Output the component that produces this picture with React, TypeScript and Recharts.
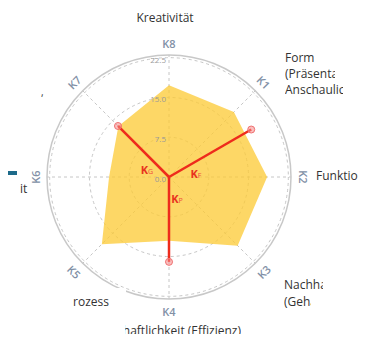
import { RadarChart, Radar, PolarGrid, PolarAngleAxis, PolarRadiusAxis } from "recharts";

// criteria around the wheel, clockwise from the top
const criteria = ["K8", "K1", "K2", "K3", "K4", "K5", "K6", "K7"];
const scores = [17.3, 17.3, 18.5, 18.3, 12.0, 17.9, 11.3, 13.5];
const radialTicks = [0, 7.5, 15, 22.5];

// resultant vectors K_G, K_F, K_P (bearing clockwise from K8, length on the radial scale)
const vectorNames = ["G", "F", "P"];
const vectorBearings = [315, 60, 180];
const vectorLengths = [13.6, 17.9, 16.0];

const STEP = 15; // angular resolution of the angle axis
const rows = Array.from({ length: 360 / STEP }, (_, i) => {
  const bearing = i * STEP;
  const k = bearing % 45 === 0 ? bearing / 45 : -1;
  const v = vectorBearings.indexOf(bearing);
  return {
    axis: k >= 0 ? criteria[k] : `_${bearing}`,
    score: k >= 0 ? scores[k] : null,
    vector: v >= 0 ? vectorLengths[v] : null,
    vectorName: v >= 0 ? vectorNames[v] : null,
  };
});

const CX = 169;
const CY = 177;
const R = 122;
const FONT = '"Open Sans", sans-serif';

const labelOffset: Record<string, [number, number]> = {
  G: [-22, -8],
  F: [27, -4],
  P: [8, 21],
};

function AngleTick({ payload }: any) {
  const name = String(payload.value);
  if (name.startsWith("_")) return <g />;
  const a = payload.coordinate;
  const rad = (a * Math.PI) / 180;
  const r = R + 12;
  const x = CX + r * Math.cos(rad);
  const y = CY - r * Math.sin(rad);
  let rot = (((90 - a) % 360) + 360) % 360;
  if (rot > 90 && rot < 270) rot -= 180;
  else if (rot >= 270) rot -= 360;
  return (
    <text
      x={x}
      y={y}
      transform={`rotate(${rot} ${x} ${y})`}
      textAnchor="middle"
      dominantBaseline="central"
      fontFamily={FONT}
      fontSize={11}
      fontWeight={600}
      fill="#8190a6"
    >
      {name}
    </text>
  );
}

function RadiusTick({ x, y, payload }: any) {
  return (
    <text
      x={x - 3}
      y={y + 1.5}
      textAnchor="end"
      dominantBaseline="central"
      fontFamily={FONT}
      fontSize={8}
      fill="#9a9a9a"
    >
      {Number(payload.value).toFixed(1)}
    </text>
  );
}

function ProfileShape({ points }: any) {
  const pts = points.filter((p: any) => p.value != null);
  const d = pts.map((p: any, i: number) => `${i ? "L" : "M"}${p.x},${p.y}`).join("") + "Z";
  return <path d={d} fill="#fccb36" fillOpacity={0.76} stroke="none" />;
}

function VectorShape({ points }: any) {
  return (
    <g>
      {points
        .filter((p: any) => p.value != null)
        .map((p: any) => {
          const key = p.payload.vectorName;
          const [dx, dy] = labelOffset[key];
          return (
            <g key={key}>
              <line x1={p.cx} y1={p.cy} x2={p.x} y2={p.y} stroke="#ee2b1c" strokeWidth={2.5} />
              <circle cx={p.x} cy={p.y} r={3.5} fill="#f58a8a" fillOpacity={0.55} stroke="#f07070" strokeWidth={1} />
              <text
                x={p.cx + dx}
                y={p.cy + dy}
                textAnchor="middle"
                dominantBaseline="central"
                fontFamily={FONT}
                fontWeight={700}
                fontSize={11}
                fill="#e8331f"
              >
                K
                <tspan fontSize={7} fontWeight={400} dy={2} fill="#f04a3a">
                  {key}
                </tspan>
              </text>
            </g>
          );
        })}
    </g>
  );
}

const textStyle: React.CSSProperties = {
  position: "absolute",
  fontFamily: FONT,
  fontSize: 12,
  lineHeight: "16px",
  color: "#333",
  whiteSpace: "nowrap",
  overflow: "hidden",
};

export default function App() {
  return (
    <div style={{ position: "relative", margin: -8, width: 366, height: 342, overflow: "hidden", background: "#fff" }}>
      <RadarChart width={366} height={342} cx={CX} cy={CY} outerRadius={R} data={rows} margin={{ top: 0, right: 0, bottom: 0, left: 0 }}>
        <PolarGrid
          gridType="circle"
          stroke="#c6c6c6"
          strokeDasharray="3 3"
          polarAngles={criteria.map((_, i) => 90 - i * 45)}
        />
        <PolarAngleAxis
          dataKey="axis"
          axisLineType="circle"
          axisLine={{ stroke: "#c8c8c8", strokeWidth: 1.5 }}
          tickLine={false}
          tick={<AngleTick />}
        />
        <PolarRadiusAxis
          angle={90}
          domain={[0, 22.5]}
          ticks={radialTicks as any}
          axisLine={false}
          tickLine={false}
          tick={<RadiusTick />}
        />
        <Radar dataKey="score" shape={<ProfileShape />} isAnimationActive={false} />
        <Radar dataKey="vector" shape={<VectorShape />} isAnimationActive={false} />
      </RadarChart>

      <div style={{ position: "absolute", left: 0, top: 171, width: 17, height: 4, background: "#1d6a8a" }} />
      <div style={{ ...textStyle, left: 110, top: 10, width: 110, textAlign: "center" }}>Kreativität</div>
      <div style={{ ...textStyle, left: 285, top: 50 }}>Form</div>
      <div style={{ ...textStyle, left: 285, top: 66, width: 50 }}>(Präsentation,</div>
      <div style={{ ...textStyle, left: 285, top: 82, width: 58 }}>Anschaulichkeit)</div>
      <div style={{ ...textStyle, left: 316, top: 168, width: 49 }}>Funktion</div>
      <div style={{ ...textStyle, left: 284, top: 277, width: 39 }}>Nachhaltigkeit</div>
      <div style={{ ...textStyle, left: 284, top: 294, width: 27 }}>(Gehalt)</div>
      <div style={{ position: "absolute", left: 112, top: 288, width: 14, height: 8, background: "#fff" }} />
      <div style={{ ...textStyle, left: 73, top: 294, width: 36, direction: "rtl", textAlign: "right" }}>Prozess</div>
      <div style={{ ...textStyle, left: 125, top: 323, width: 116, direction: "rtl", textAlign: "right" }}>
        Wirtschaftlichkeit (Effizienz)
      </div>
      <div style={{ ...textStyle, left: 20, top: 181, width: 8 }}>it</div>
      <div style={{ ...textStyle, left: 41, top: 84, fontSize: 10 }}>,</div>
    </div>
  );
}
